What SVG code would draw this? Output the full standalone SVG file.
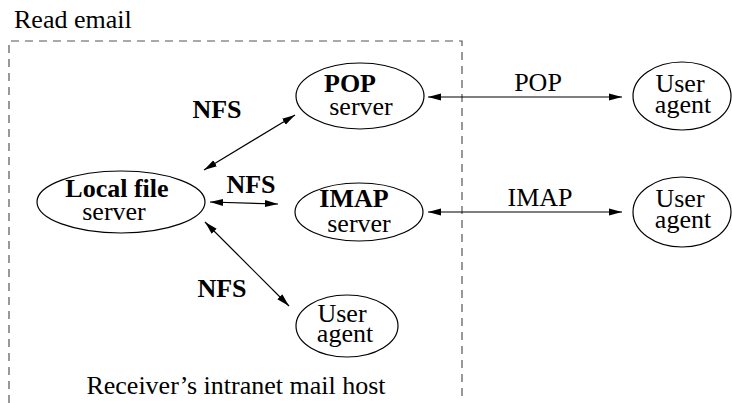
<svg xmlns="http://www.w3.org/2000/svg" width="732" height="403" viewBox="0 0 732 403">
<defs>
<style>
.t{font-family:"Liberation Serif","Times New Roman",serif;font-size:26px;fill:#000;text-anchor:middle}
.b{font-weight:bold}
.n{fill:#fff;stroke:#000;stroke-width:1.2}
.c{stroke:#000;stroke-width:1.2;fill:none;marker-start:url(#ah);marker-end:url(#ah)}
.box{fill:none;stroke:#555;stroke-width:1.2;stroke-dasharray:8 6}
</style>
<marker id="ah" markerUnits="userSpaceOnUse" markerWidth="14" markerHeight="8" refX="13" refY="4" orient="auto-start-reverse">
<path d="M0,0.5 L13,4 L0,7.5 Z" fill="#000"/>
</marker>
</defs>
<rect width="732" height="403" fill="#fff"/>
<g id="host">
<path class="box" d="M9,403 V41 H462 V398"/>
<text class="t" x="14" y="28" style="text-anchor:start">Read email</text>
<text class="t" x="236" y="394">Receiver’s intranet mail host</text>
</g>
<g id="connectors">
<line class="c" x1="204" y1="170" x2="295" y2="115"/>
<line class="c" x1="210" y1="202" x2="278" y2="204"/>
<line class="c" x1="205" y1="222" x2="289" y2="306"/>
<line class="c" x1="428" y1="97" x2="622" y2="97"/>
<line class="c" x1="428" y1="212" x2="622" y2="212"/>
<text class="t b" x="217" y="118">NFS</text>
<text class="t b" x="251" y="193">NFS</text>
<text class="t b" x="222" y="297">NFS</text>
<text class="t" x="538" y="91">POP</text>
<text class="t" x="540" y="206">IMAP</text>
</g>
<g id="local">
<ellipse class="n" cx="121" cy="202" rx="84" ry="31"/>
<text class="t"><tspan class="b" x="117" y="197">Local file</tspan><tspan x="114" y="220">server</tspan></text>
</g>
<g id="pop">
<ellipse class="n" cx="360" cy="96" rx="64" ry="33"/>
<text class="t"><tspan class="b" x="350" y="92">POP</tspan><tspan x="361" y="115">server</tspan></text>
</g>
<g id="imap">
<ellipse class="n" cx="359" cy="212" rx="64" ry="29"/>
<text class="t"><tspan class="b" x="354" y="207">IMAP</tspan><tspan x="359" y="232">server</tspan></text>
</g>
<g id="ua-local">
<ellipse class="n" cx="347" cy="326" rx="51" ry="31"/>
<text class="t"><tspan x="342" y="322">User</tspan><tspan x="345" y="342">agent</tspan></text>
</g>
<g id="ua-pop">
<ellipse class="n" cx="682" cy="96" rx="49" ry="34"/>
<text class="t"><tspan x="680" y="92">User</tspan><tspan x="683" y="113">agent</tspan></text>
</g>
<g id="ua-imap">
<ellipse class="n" cx="682" cy="212" rx="49" ry="35"/>
<text class="t"><tspan x="680" y="207">User</tspan><tspan x="683" y="228">agent</tspan></text>
</g>
</svg>
